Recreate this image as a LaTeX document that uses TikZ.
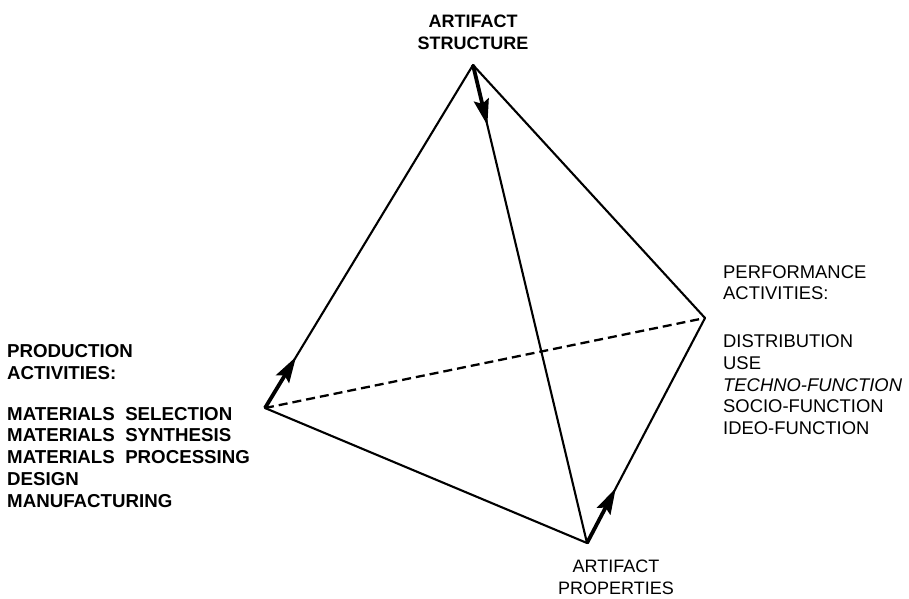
\documentclass[tikz,border=0pt]{standalone}
\usepackage{fontspec}
\setmainfont{Liberation Sans}
\usetikzlibrary{arrows.meta,calc}
\begin{document}
\begin{tikzpicture}[x=1pt,y=-1pt,
  edge/.style={line width=2.1pt, line join=round, line cap=round},
  hidden/.style={line width=2.3pt, dash pattern=on 9pt off 5pt},
  flow/.style={line width=3.8pt, -{Stealth[length=26pt,width=15pt,inset=4pt]}},
  lbl/.style={inner sep=0pt, font=\fontsize{18}{22}\selectfont},
]
\useasboundingbox (0,0) rectangle (909,598);
% vertices
\coordinate (T) at (473,65);
\coordinate (L) at (265,408);
\coordinate (R) at (705,318);
\coordinate (B) at (587,543);
% edges
\draw[edge] (T) -- (L);
\draw[edge] (T) -- (R);
\draw[edge] (T) -- (B);
\draw[edge] (L) -- (B);
\draw[edge] (R) -- (B);
\draw[hidden] (L) -- (R);
% arrows
\coordinate (la) at ($(L)!60pt!(T)$);
\coordinate (ta) at ($(T)!62pt!(B)$);
\coordinate (ba) at ($(B)!62pt!(R)$);
\draw[flow] (L) -- (la);
\draw[flow] (T) -- (ta);
\draw[flow] (B) -- (ba);
% labels
\node[lbl, anchor=north, align=center, font=\fontsize{18}{22}\selectfont\bfseries] (top) at (473,15) {ARTIFACT\\STRUCTURE};
\node[lbl, anchor=north, align=center, font=\fontsize{18}{21.5}\selectfont] (bot) at (616,560) {ARTIFACT\\PROPERTIES};
\node[lbl, anchor=north west, align=left, font=\fontsize{18.7}{21.9}\selectfont\bfseries] (prod) at (7,344)
  {PRODUCTION\\ACTIVITIES:\\[19pt]MATERIALS\ \ SELECTION\\MATERIALS\ \ SYNTHESIS\\MATERIALS\ \ PROCESSING\\DESIGN\\MANUFACTURING};
\node[lbl, anchor=north west, align=left, font=\fontsize{18.4}{21.75}\selectfont] (perf) at (723,265)
  {PERFORMANCE\\ACTIVITIES:\\[26pt]DISTRIBUTION\\USE\\\textit{TECHNO-FUNCTION}\\SOCIO-FUNCTION\\IDEO-FUNCTION};
\end{tikzpicture}
\end{document}
